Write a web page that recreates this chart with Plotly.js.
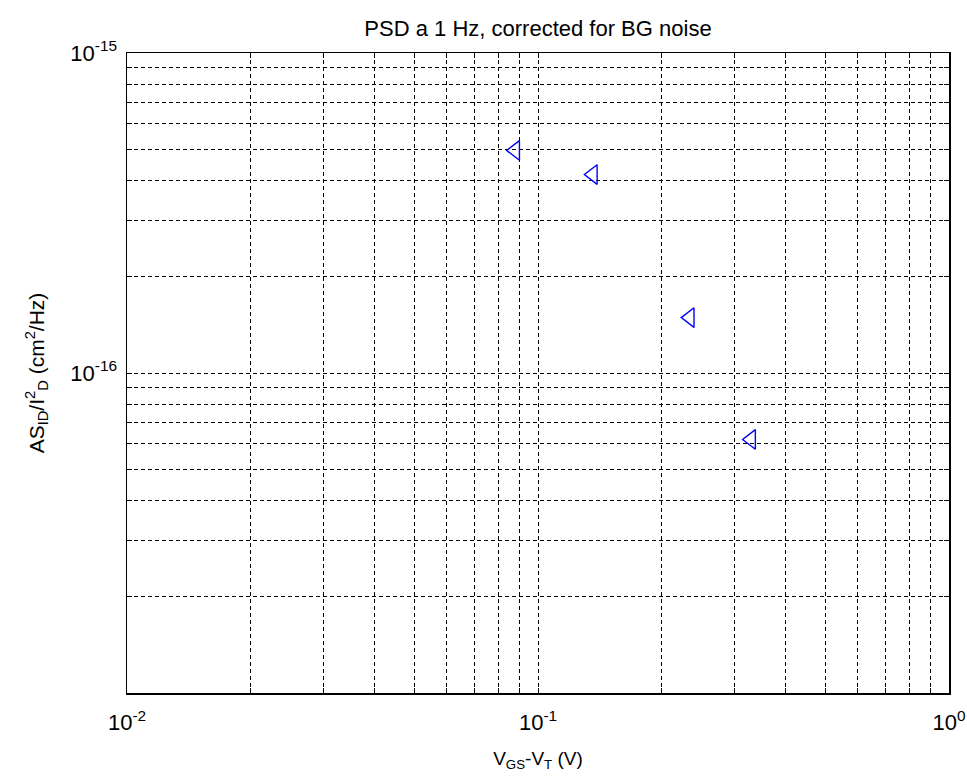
<!DOCTYPE html>
<html>
<head>
<meta charset="utf-8">
<script src="https://cdn.plot.ly/plotly-3.0.1.min.js"></script>
<style>html,body{margin:0;padding:0;background:#fff;}#chart{width:967px;height:780px;}</style>
</head>
<body>
<div id="chart"></div>
<script>
// Data
const vgsMinusVt = [0.088, 0.136, 0.234, 0.330];
const normPSD = [4.96e-16, 4.17e-16, 1.49e-16, 6.2e-17];

// Axis ticks / grid positions (1..9 per decade)
const xTickVals = [0.01,0.02,0.03,0.04,0.05,0.06,0.07,0.08,0.09,0.1,0.2,0.3,0.4,0.5,0.6,0.7,0.8,0.9,1];
const xTickText = ['10<sup>-2</sup>','','','','','','','','','10<sup>-1</sup>','','','','','','','','','10<sup>0</sup>'];
const yTickVals = [2e-17,3e-17,4e-17,5e-17,6e-17,7e-17,8e-17,9e-17,1e-16,2e-16,3e-16,4e-16,5e-16,6e-16,7e-16,8e-16,9e-16,1e-15];
const yTickText = ['','','','','','','','','10<sup>-16</sup>','','','','','','','','','10<sup>-15</sup>'];

const fam = 'Liberation Sans, Arial, Helvetica, sans-serif';
const titleFont = {family: fam, size: 22, color: '#000'};
const xTitleFont = {family: fam, size: 19, color: '#000'};
const yTitleFont = {family: fam, size: 21, color: '#000'};
const tickFont = {family: fam, size: 22, color: '#000'};

const trace = {
  x: vgsMinusVt,
  y: normPSD,
  type: 'scatter',
  mode: 'markers',
  marker: {symbol: 'triangle-left-open', size: 17, color: '#0000ff', line: {color: '#0000ff', width: 1.4}},
  showlegend: false,
  hoverinfo: 'x+y'
};

const axisCommon = {
  showline: true, linecolor: '#000', linewidth: 1.5, mirror: 'ticks',
  ticks: 'inside', ticklen: 5, tickcolor: '#000',
  showgrid: true, gridcolor: '#000', gridwidth: 1, griddash: '4px,3px',
  zeroline: false, tickmode: 'array', tickfont: tickFont
};

const layout = {
  width: 967, height: 780,
  paper_bgcolor: '#fff', plot_bgcolor: '#fff',
  margin: {l: 127, r: 18, t: 53, b: 87},
  font: titleFont,
  title: {text: 'PSD a 1 Hz, corrected for BG noise', font: titleFont, x: 0.5, xref: 'paper', y: 1 - 28/780, yref: 'container', yanchor: 'middle'},
  xaxis: Object.assign({}, axisCommon, {
    type: 'log', range: [-2, 0],
    tickvals: xTickVals, ticktext: xTickText, ticklabelstandoff: 9,
    title: {text: 'V<sub>GS</sub>-V<sub>T</sub> (V)', font: xTitleFont, standoff: 18}
  }),
  yaxis: Object.assign({}, axisCommon, {
    type: 'log', range: [-17, -15],
    tickvals: yTickVals, ticktext: yTickText, ticklabelstandoff: 4,
    title: {text: 'AS<sub>ID</sub>/I<sup>2</sup><sub>D</sub> (cm<sup>2</sup>/Hz)', font: yTitleFont, standoff: 20}
  })
};

Plotly.newPlot('chart', [trace], layout, {displayModeBar: false, staticPlot: true});
</script>
</body>
</html>
